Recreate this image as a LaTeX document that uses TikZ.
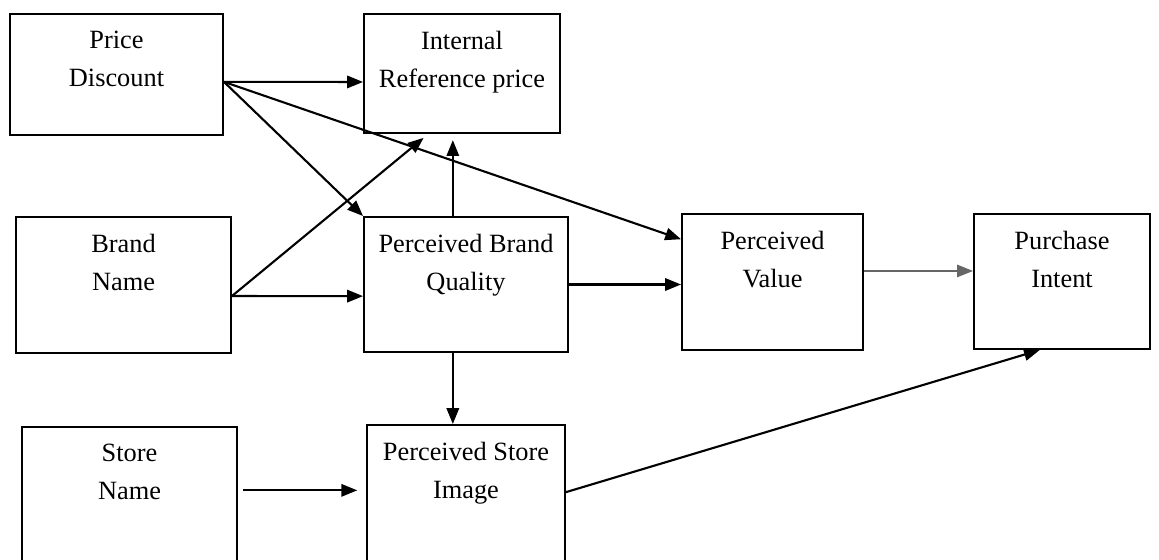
\documentclass[tikz,border=0pt]{standalone}
\usepackage{fontspec}
\setmainfont{Liberation Serif}
\usetikzlibrary{arrows.meta,fit,calc}

\tikzset{
  box/.style={draw, line width=1.1pt, inner sep=0pt},
  lbl/.style={anchor=north, align=center, yshift=-6.8pt, font=\fontsize{15}{21.5}\selectfont},
  arr/.style={-{Triangle[length=9pt,width=7pt]}, line width=1.2pt},
}

\begin{document}
\begin{tikzpicture}[x=0.02cm, y=-0.02cm]
\useasboundingbox (0,0) rectangle (1159,560);
\clip (0,0) rectangle (1159,560);

% boxes
\node[box, fit={(10,14) (223,135)}, label={[lbl]north:Price\\Discount}] (price) {};
\node[box, fit={(364,14) (560,133)}, label={[lbl]north:Internal\\Reference price}] (internal) {};
\node[box, fit={(16,217) (231,353)}, label={[lbl]north:Brand\\Name}] (brand) {};
\node[box, fit={(364,217) (568,352)}, label={[lbl]north:Perceived Brand\\Quality}] (pbq) {};
\node[box, fit={(682,214) (863,350)}, label={[lbl]north:Perceived\\Value}] (pv) {};
\node[box, fit={(974,214) (1150,349)}, label={[lbl]north:Purchase\\Intent}] (pi) {};
\node[box, fit={(22,427) (237,568)}, label={[lbl]north:Store\\Name}] (store) {};
\node[box, fit={(367,425) (565,568)}, label={[lbl]north:Perceived Store\\Image}] (psi) {};

% points on the borders
\coordinate (price out) at ($(price.north east)!0.56!(price.south east)$);
\coordinate (internal in) at ($(internal.north west)!0.57!(internal.south west)$);
\coordinate (internal low) at ($(internal.south west)!0.33!(internal.south east)$);
\coordinate (pv in) at ($(pv.north west)!0.19!(pv.south west)$);
\coordinate (brand out) at ($(brand.north east)!0.58!(brand.south east)$);
\coordinate (pbq in) at ($(pbq.north west)!0.585!(pbq.south west)$);
\coordinate (pbq top) at ($(pbq.north west)!0.436!(pbq.north east)$);
\coordinate (pbq low) at ($(pbq.south west)!0.436!(pbq.south east)$);
\coordinate (store out) at ($(store.north east)!0.45!(store.south east)$);
\coordinate (pv out) at ($(pv.north east)!0.42!(pv.south east)$);
\coordinate (psi out) at ($(psi.north east)!0.47!(psi.south east)$);
\coordinate (pi low) at ($(pi.south west)!0.375!(pi.south east)$);

% arrows
\draw[arr] (price out) -- (internal in);
\draw[arr] (price out) -- (pbq.north west);
\draw[arr] (price out) -- (pv in);
\draw[arr, shorten >=3.5pt] (brand out) -- (internal low);
\draw[arr] (brand out) -- (pbq in);
\draw[arr, shorten >=3.5pt] (pbq top) -- (pbq top |- internal.south);
\draw[arr] (pbq.east) -- (pbq.east -| pv.west);
\draw[arr] (pbq low) -- (pbq low |- psi.north);
\draw[arr, shorten <=3pt, shorten >=5pt] (store out) -- (store out -| psi.west);
\draw[arr, line width=0.8pt, draw=black!60] (pv out) -- (pv out -| pi.west);
\draw[arr] (psi out) -- (pi low);

\end{tikzpicture}
\end{document}
